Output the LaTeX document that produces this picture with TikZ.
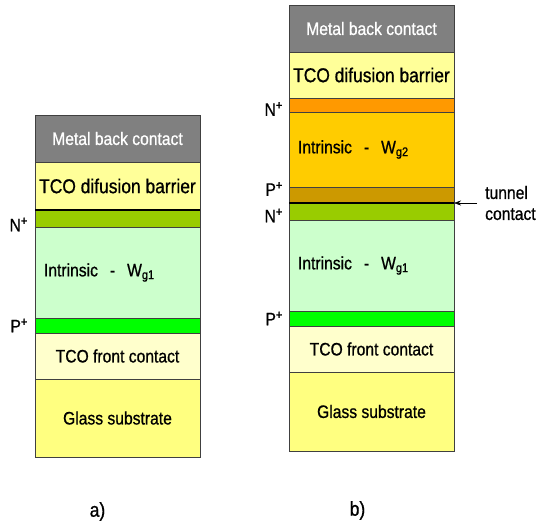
\documentclass[tikz,border=0pt]{standalone}
\usepackage{fontspec}
\setmainfont{Liberation Sans}[FakeStretch=0.87,FakeBold=0.8]
\usetikzlibrary{positioning,arrows.meta}

\definecolor{metalgray}{HTML}{808080}
\definecolor{barrieryellow}{HTML}{FFFF99}
\definecolor{frontyellow}{HTML}{FFFFCC}
\definecolor{glassyellow}{HTML}{FFFF80}
\definecolor{nlime}{HTML}{99CC00}
\definecolor{pgreen}{HTML}{00FF00}
\definecolor{ilightgreen}{HTML}{CCFFCC}
\definecolor{norange}{HTML}{FF9900}
\definecolor{iamber}{HTML}{FFCC00}
\definecolor{pbrown}{HTML}{CC9900}

\begin{document}
\begin{tikzpicture}[
      x=1pt, y=1pt,
      node distance=0pt,
      layer/.style={
        draw=black!75,
        rectangle,
        minimum width=165pt,
        inner sep=0pt,
        outer sep=0pt,
        font=\fontsize{18}{20}\selectfont
      },
      intr/.style={layer, text width=147pt, align=left},
      dope/.style={inner sep=0pt, font=\fontsize{18}{20}\selectfont},
      >={Stealth[length=7pt,width=5pt]} % arrow tip
    ]
    \useasboundingbox (0,0) rectangle (539,-528);

    % Stack a
    \node[layer, fill=metalgray, text=white, minimum height=47pt, anchor=north west] (am) at (35,-115) {Metal back contact};
    \node[layer, fill=barrieryellow, minimum height=48pt, below=of am, font=\fontsize{20}{22}\selectfont] (ab) {TCO difusion barrier};
    \node[layer, fill=nlime, minimum height=17pt, below=of ab] (an) {};
    \node[intr, fill=ilightgreen, minimum height=91pt, below=of an] (ai) {Intrinsic\ \ -\ \ W\textsubscript{g1}};
    \node[layer, fill=pgreen, minimum height=15pt, below=of ai] (ap) {};
    \node[layer, fill=frontyellow, minimum height=46pt, below=of ap] (af) {TCO front contact};
    \node[layer, fill=glassyellow, minimum height=78pt, below=of af] (ag) {Glass substrate};
    \draw[line width=1.6pt] (an.north west) -- (an.north east);

    % Stack b
    \node[layer, fill=metalgray, text=white, minimum height=47pt, anchor=north west] (bm) at (289,-5) {Metal back contact};
    \node[layer, fill=barrieryellow, minimum height=46pt, below=of bm, font=\fontsize{20}{22}\selectfont] (bb) {TCO difusion barrier};
    \node[layer, fill=norange, minimum height=14pt, below=of bb] (bn2) {};
    \node[intr, fill=iamber, minimum height=75pt, below=of bn2] (bi2) {Intrinsic\ \ -\ \ W\textsubscript{g2}};
    \node[layer, fill=pbrown, minimum height=16pt, below=of bi2] (bp2) {};
    \node[layer, fill=nlime, minimum height=17pt, below=of bp2] (bn1) {};
    \node[intr, fill=ilightgreen, minimum height=91pt, below=of bn1] (bi1) {Intrinsic\ \ -\ \ W\textsubscript{g1}};
    \node[layer, fill=pgreen, minimum height=15pt, below=of bi1] (bp1) {};
    \node[layer, fill=frontyellow, minimum height=46pt, below=of bp1] (bf) {TCO front contact};
    \node[layer, fill=glassyellow, minimum height=79pt, below=of bf] (bg) {Glass substrate};
    \draw[line width=1.6pt] (bn1.north west) -- (bn1.north east);

    % Doping labels
    \node[dope, left=7pt of an, yshift=-6pt] (anl) {N\textsuperscript{+}};
    \node[dope, left=7pt of ap] (apl) {P\textsuperscript{+}};
    \node[dope, left=6pt of bn2, yshift=-4pt] (bn2l) {N\textsuperscript{+}};
    \node[dope, left=6pt of bp2, yshift=6pt] (bp2l) {P\textsuperscript{+}};
    \node[dope, left=6pt of bn1, yshift=-4pt] (bn1l) {N\textsuperscript{+}};
    \node[dope, left=6pt of bp1] (bp1l) {P\textsuperscript{+}};

    % Tunnel contact
    \node[dope, align=left, right=31pt of bp2.south east, font=\fontsize{18}{21}\selectfont] (tc) {tunnel\\contact};
    \draw[->] ([xshift=-8pt]tc.west) -- (bp2.south east);

    % Captions
    \node[inner sep=0pt, font=\fontsize{20}{22}\selectfont, below=45pt of ag, xshift=-20pt] (capa) {a)};
    \node[inner sep=0pt, font=\fontsize{20}{22}\selectfont, below=50pt of bg, xshift=-14pt] (capb) {b)};
  \end{tikzpicture}
\end{document}
